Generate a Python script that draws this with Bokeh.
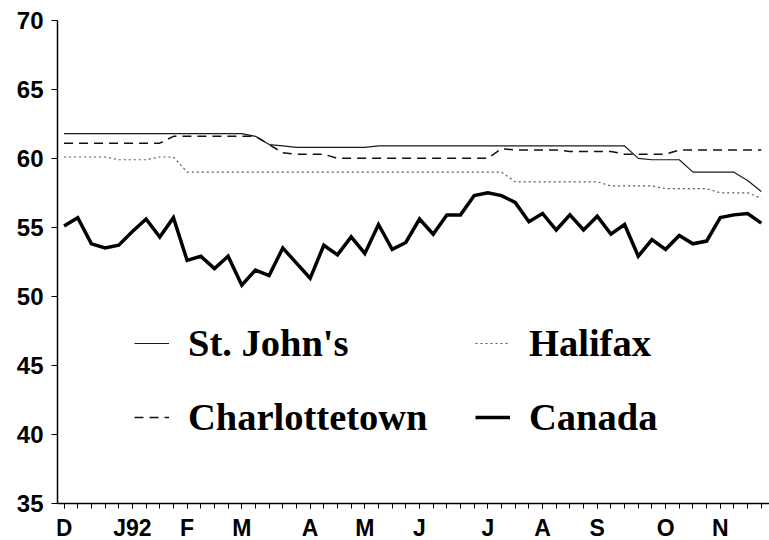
from bokeh.plotting import figure
from bokeh.models import FixedTicker, Legend, LegendItem, Range1d
from bokeh.embed import file_html
from bokeh.resources import INLINE

weeks = list(range(52))
month_ticks = [0, 5, 9, 13, 18, 22, 26, 31, 35, 39, 44, 48]
month_labels = ["D", "J92", "F", "M", "A", "M", "J", "J", "A", "S", "O", "N"]
y_ticks = [35, 40, 45, 50, 55, 60, 65, 70]

canada = [55.1, 55.7, 53.8, 53.5, 53.7, 54.7, 55.6, 54.3, 55.7, 52.6,
          52.9, 52.0, 52.9, 50.8, 51.9, 51.5, 53.5, 52.4, 51.3, 53.7,
          53.0, 54.3, 53.1, 55.2, 53.4, 53.9, 55.6, 54.5, 55.9, 55.9,
          57.3, 57.5, 57.3, 56.8, 55.4, 56.0, 54.8, 55.9, 54.8, 55.8,
          54.5, 55.2, 52.9, 54.1, 53.4, 54.4, 53.8, 54.0, 55.7, 55.9,
          56.0, 55.3]

st_johns = ([61.8] * 14 + [61.6, 61.0, 60.9] + [60.8] * 6 + [60.9] * 19
            + [60.0] + [59.9] * 3 + [59.0] * 4 + [58.4, 57.6])

charlottetown = ([61.1] * 8 + [61.6] * 7 + [61.0, 60.4] + [60.3] * 3 + [60.0] * 12
                 + [60.7] + [60.6] * 4 + [60.5] * 4 + [60.3] * 4 + [60.6] * 7)

halifax = ([60.1] * 4 + [59.9] * 3 + [60.1] * 2 + [59.0] * 24 + [58.3] * 7
           + [58.0] * 4 + [57.8] * 4 + [57.5] * 3 + [57.1])

y_lo, y_hi = y_ticks[0], y_ticks[-1]

p = figure(width=769, height=540, output_backend="svg", toolbar_location=None,
           x_range=Range1d(-0.48, 51.6), y_range=Range1d(32.28, y_hi),
           min_border_left=57, min_border_right=0, min_border_top=20,
           min_border_bottom=0)
p.outline_line_color = None
p.xgrid.visible = False
p.ygrid.visible = False
p.background_fill_color = "white"
p.border_fill_color = "white"

r_sj = p.line(weeks, st_johns, line_color="#1a1a1a", line_width=1.2)
r_hx = p.line(weeks, halifax, line_color="#555555", line_width=1.2, line_dash="2 3")
r_ch = p.line(weeks, charlottetown, line_color="#111111", line_width=1.5, line_dash="9 6")
r_ca = p.line(weeks, canada, line_color="black", line_width=3.5, line_join="miter")

xa = p.xaxis[0]
xa.fixed_location = y_lo
xa.ticker = FixedTicker(ticks=month_ticks, minor_ticks=weeks)
xa.major_label_overrides = {t: l for t, l in zip(month_ticks, month_labels)}
xa.major_tick_in = 0
xa.major_tick_out = 5
xa.minor_tick_in = 0
xa.minor_tick_out = 5
xa.axis_line_width = 1.5
xa.major_label_standoff = 7
xa.major_label_text_font = "Liberation Sans"
xa.major_label_text_font_style = "bold"
xa.major_label_text_font_size = "23px"
xa.major_label_text_color = "black"

ya = p.yaxis[0]
ya.bounds = (y_lo, y_hi)
ya.ticker = FixedTicker(ticks=y_ticks, minor_ticks=[])
ya.major_tick_in = 0
ya.major_tick_out = 6
ya.axis_line_width = 1.5
ya.major_label_standoff = 8
ya.major_label_text_font = "Liberation Sans"
ya.major_label_text_font_style = "bold"
ya.major_label_text_font_size = "24px"
ya.major_label_text_color = "black"

common = dict(border_line_alpha=0, background_fill_alpha=0, padding=0,
              margin=0, spacing=29, label_height=45, glyph_width=35,
              glyph_height=20, label_standoff=19,
              label_text_font="Liberation Serif", label_text_font_style="bold",
              label_text_font_size="38.5px", label_text_color="black",
              orientation="vertical")
leg_a = Legend(items=[LegendItem(label="St. John's", renderers=[r_sj]),
                      LegendItem(label="Charlottetown", renderers=[r_ch])],
               location=(77, 101), **common)
leg_b = Legend(items=[LegendItem(label="Halifax", renderers=[r_hx]),
                      LegendItem(label="Canada", renderers=[r_ca])],
               location=(418, 101), **common)
p.add_layout(leg_a)
p.add_layout(leg_b)

open("out.html", "w").write(file_html(p, INLINE))
